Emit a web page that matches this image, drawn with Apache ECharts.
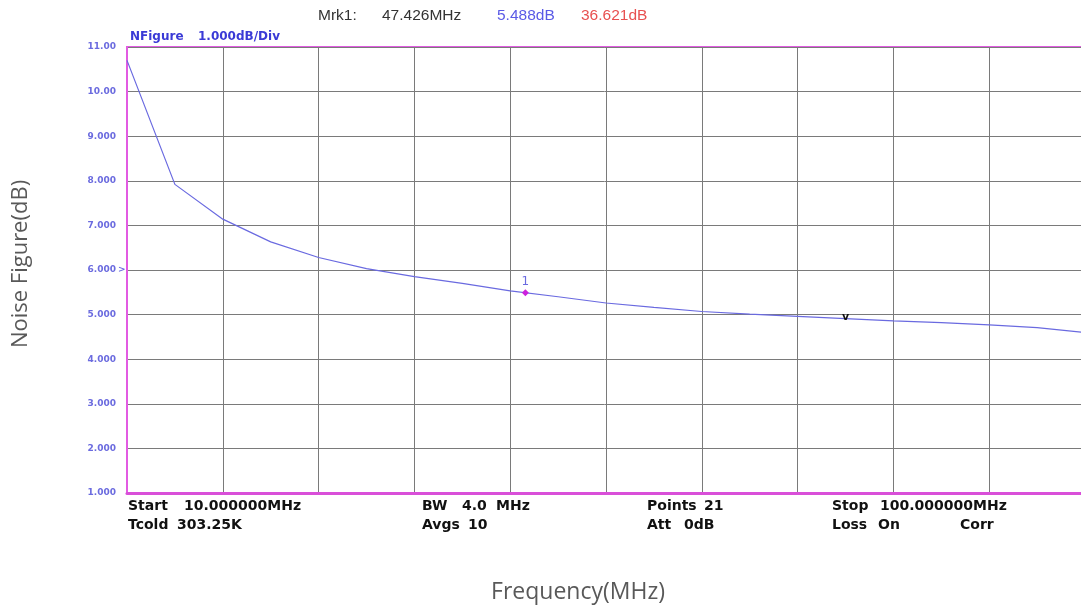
<!DOCTYPE html>
<html>
<head>
<meta charset="utf-8">
<script src="https://cdn.jsdelivr.net/npm/echarts@6/dist/echarts.min.js"></script>
<style>
html,body{margin:0;padding:0;background:#fff;}
#c{width:1081px;height:606px;}
</style>
</head>
<body>
<div id="c"></div>
<script>
// Sweep points (MHz)
var freqMHz = [10, 14.5, 19, 23.5, 28, 32.5, 37, 41.5, 46, 50.5, 55, 59.5, 64, 68.5, 73, 77.5, 82, 86.5, 91, 95.5, 100];
// Noise figure (dB)
var noiseFigure = [10.70, 7.92, 7.14, 6.63, 6.28, 6.03, 5.85, 5.70, 5.53, 5.40, 5.26, 5.16, 5.07, 5.01, 4.96, 4.91, 4.86, 4.82, 4.77, 4.71, 4.60];
// Marker 1
var marker1 = [47.426, 5.488];
// Reference "v" marker
var marker2 = [77.5, 4.95];
// Y tick labels
var yTickLabels = {1:'1.000',2:'2.000',3:'3.000',4:'4.000',5:'5.000',6:'6.000',7:'7.000',8:'8.000',9:'9.000',10:'10.00',11:'11.00'};

var lineData = freqMHz.map(function(f, i){ return [f, noiseFigure[i]]; });

var chart = echarts.init(document.getElementById('c'), null, {renderer:'canvas'});
function info(x, y, t){
  return {type:'text', left:x, top:y, style:{text:t, font:'bold 14px "DejaVu Sans"', fill:'#111'}};
}
chart.setOption({
  animation:false,
  backgroundColor:'#fff',
  grid:{left:127, top:47, width:958, height:446, outerBoundsMode:'none', containLabel:false,
        show:true, borderColor:'#e25be2', borderWidth:2, backgroundColor:'#fff'},
  xAxis:{
    type:'value', min:10, max:100, interval:9,
    axisLine:{show:true, lineStyle:{color:'#d94fd9', width:3}},
    axisTick:{show:false}, axisLabel:{show:false},
    splitLine:{show:true, lineStyle:{color:'#7a7a7a', width:1}}
  },
  yAxis:{
    type:'value', min:1, max:11, interval:1,
    axisLine:{show:true, lineStyle:{color:'#e25be2', width:2}},
    axisTick:{show:false},
    axisLabel:{margin:11, fontFamily:'DejaVu Sans', fontWeight:'bold', fontSize:9, color:'#6b6bdf',
      formatter:function(v){ return yTickLabels[v] || ''; }},
    splitLine:{show:true, lineStyle:{color:'#7a7a7a', width:1}}
  },
  series:[
    {type:'line', data:lineData, symbol:'none', lineStyle:{color:'#6a6ae0', width:1.2}, z:3,
     markPoint:{
       symbol:'diamond', symbolSize:7,
       data:[
         {coord:marker1, itemStyle:{color:'#cc22dd'}, label:{show:true, position:'top', distance:1, formatter:'1', color:'#6a6ae0', fontSize:12, fontFamily:'DejaVu Sans'}},
         {coord:marker2, symbolSize:0.1, itemStyle:{color:'rgba(0,0,0,0)'}, label:{show:true, position:'inside', offset:[0,0], formatter:'v', color:'#111', fontSize:11, fontWeight:'bold', fontFamily:'DejaVu Sans'}}
       ]
     }}
  ],
  graphic:[
    {type:'text', x:578, y:592, style:{text:'Frequency(MHz)', font:'23px "Open Sans"', fill:'#595959', align:'center', verticalAlign:'middle'}},
    {type:'text', x:21, y:264, rotation:Math.PI/2, style:{text:'Noise Figure(dB)', font:'22px "Open Sans"', fill:'#595959', align:'center', verticalAlign:'middle'}},
    {type:'text', left:318, top:8, style:{text:'Mrk1:', font:'15.5px "Liberation Sans"', fill:'#333'}},
    {type:'text', left:382, top:8, style:{text:'47.426MHz', font:'15.5px "Liberation Sans"', fill:'#333'}},
    {type:'text', left:497, top:8, style:{text:'5.488dB', font:'15.5px "Liberation Sans"', fill:'#5a5ae6'}},
    {type:'text', left:581, top:8, style:{text:'36.621dB', font:'15.5px "Liberation Sans"', fill:'#e85050'}},
    {type:'text', left:130, top:31, style:{text:'NFigure', font:'bold 12px "DejaVu Sans"', fill:'#3a3ad6'}},
    {type:'text', left:198, top:31, style:{text:'1.000dB/Div', font:'bold 12px "DejaVu Sans"', fill:'#3a3ad6'}},
    {type:'text', left:118, top:265, style:{text:'>', font:'bold 9px "DejaVu Sans"', fill:'#6b6bdf'}},
    info(128, 499, 'Start'), info(184, 499, '10.000000MHz'),
    info(128, 518, 'Tcold'), info(177, 518, '303.25K'),
    info(422, 499, 'BW'), info(462, 499, '4.0'), info(496, 499, 'MHz'),
    info(422, 518, 'Avgs'), info(468, 518, '10'),
    info(647, 499, 'Points'), info(704, 499, '21'),
    info(647, 518, 'Att'), info(684, 518, '0dB'),
    info(832, 499, 'Stop'), info(880, 499, '100.000000MHz'),
    info(832, 518, 'Loss'), info(878, 518, 'On'), info(960, 518, 'Corr')
  ]
});
</script>
</body>
</html>
